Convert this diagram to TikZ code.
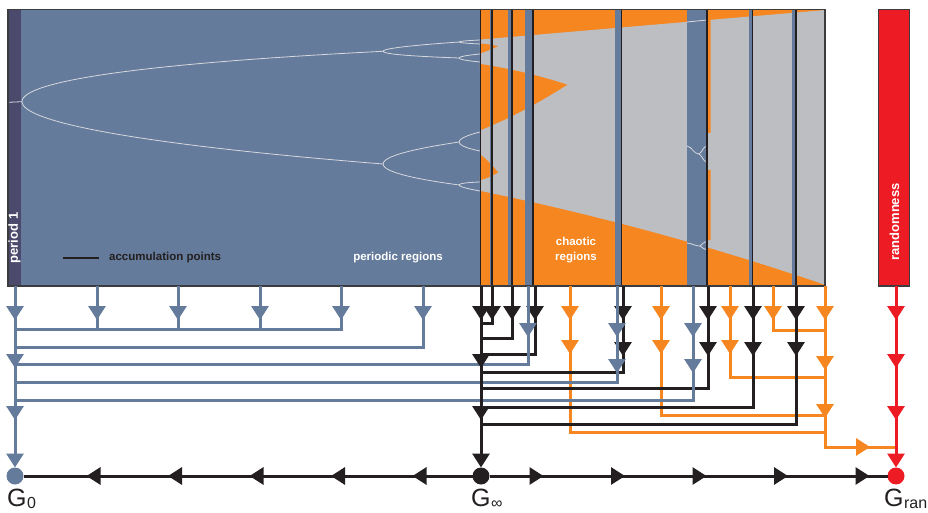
\documentclass[tikz,border=0pt]{standalone}
\usepackage{fontspec}
\setmainfont{Liberation Sans}
\usetikzlibrary{arrows.meta,decorations.markings}

\definecolor{perblue}{RGB}{101,123,155}
\definecolor{pertone}{RGB}{76,74,108}
\definecolor{chorange}{RGB}{245,134,32}
\definecolor{chgray}{RGB}{188,190,193}
\definecolor{randred}{RGB}{237,28,36}
\definecolor{accblack}{RGB}{35,31,32}
\definecolor{branchgray}{RGB}{214,216,221}
\definecolor{framegray}{RGB}{60,60,62}

\newcommand{\Gsub}[1]{G\kern0.5pt\raisebox{-2.5pt}{\fontsize{16}{16}\selectfont #1}}

\tikzset{
  tri/.tip={Triangle[length=14pt,width=17pt]},
  wire/.style={line width=3pt},
  bwire/.style={wire, draw=perblue},
  kwire/.style={wire, draw=accblack},
  owire/.style={wire, draw=chorange},
  rwire/.style={wire, draw=randred},
  tipat/.style={postaction={decorate, decoration={markings, mark=at position #1 with {\arrow{tri}}}}},
  marksat/.style={tipat/.list={#1}},
  flow/.style={postaction={decorate, decoration={markings, mark=between positions #1 and 395pt step 81.5pt with {\arrow{tri}}}}},
  dot/.style={circle, inner sep=0pt, outer sep=0pt, minimum size=17pt},
  branch/.style={draw=branchgray, line width=0.8pt},
  lbl/.style={font=\fontsize{11.5}{15}\selectfont\bfseries, inner sep=0pt},
  vlbl/.style={font=\fontsize{13}{15}\selectfont\bfseries, inner sep=0pt, rotate=90, text=white},
  glbl/.style={font=\fontsize{25}{25}\selectfont, inner sep=0pt, anchor=base west, text=accblack}
}

\begin{document}
\begin{tikzpicture}[x=1pt, y=-1pt,
  declare function={
    lg(\rr,\vv)=\rr*\vv*(1-\vv);
    ka(\rr)=\rr/4;
    kb(\rr)=lg(\rr,ka(\rr));
    kc(\rr)=lg(\rr,kb(\rr));
    kd(\rr)=lg(\rr,kc(\rr));
    ke(\rr)=lg(\rr,kd(\rr));
    kf(\rr)=lg(\rr,ke(\rr));
    kg(\rr)=lg(\rr,kf(\rr));
    kh(\rr)=lg(\rr,kg(\rr));
    rpx(\rr)=22+(\rr-3)*803.6;
    vpy(\vv)=285-275*\vv;
    ptwo(\tq)=(4+0.4495*\tq*\tq+\tq*sqrt(0.4495*(4+0.4495*\tq*\tq)))/(2*(3+0.4495*\tq*\tq));
  }]
\useasboundingbox (0,0) rectangle (928,513);

% bifurcation diagram
\fill[pertone] (8,9.5) rectangle (21,286);
\fill[perblue] (21,9.5) rectangle (480.5,286);
\fill[chorange] (480.5,9.5) rectangle (825,286);
\fill[chgray] plot[domain=3.5699:4, samples=40] ({rpx(\x)},{vpy(ka(\x))})
  -- plot[domain=4:3.5699, samples=40] ({rpx(\x)},{vpy(kb(\x))}) -- cycle;
\fill[chorange] plot[domain=3.5699:3.6786, samples=30] ({rpx(\x)},{vpy(kc(\x))})
  -- plot[domain=3.6786:3.5699, samples=30] ({rpx(\x)},{vpy(kd(\x))}) -- cycle;
\fill[chorange] plot[domain=3.5699:3.5925, samples=15] ({rpx(\x)},{vpy(kg(\x))})
  -- plot[domain=3.5925:3.5699, samples=15] ({rpx(\x)},{vpy(ke(\x))}) -- cycle;
\fill[chorange] plot[domain=3.5699:3.5925, samples=15] ({rpx(\x)},{vpy(kf(\x))})
  -- plot[domain=3.5925:3.5699, samples=15] ({rpx(\x)},{vpy(kh(\x))}) -- cycle;

% periodic windows
\foreach \wa/\wb in {489.5/492,507.5/512,525/533,614.5/621.5,686.5/707,748.5/752.5,792/796}
  \fill[perblue] (\wa,9.5) rectangle (\wb,286);
\fill[chorange] (707,10) rectangle (710.5,133) (707,170) rectangle (710.5,240);

% branches
\draw[branch] (8,102.3) -- (22,101.7);
\draw[branch] plot[domain=-1:1, samples=61] ({rpx(3+0.4495*\x*\x)},{vpy(ptwo(\x))});
\foreach \xb/\yb/\xe/\ya/\yc in {383.1/51.3/459.2/42/58, 383.1/164/459.2/142/185,
    459.2/42/480/40/44, 459.2/58/480/54/62, 459.2/142/480/132/151, 459.2/185/480/182/191}
  \draw[branch] plot[domain=-1:1, samples=25]
    ({\xb+(\xe-\xb)*\x*\x},{\yb+(\yc-\ya)/2*\x+((\ya+\yc)/2-\yb)*\x*\x});
\draw[branch] (687,22) -- (707,20);
\draw[branch] (687,146) to[out=-10,in=180] (699,154) to[out=30,in=190] (707,146);
\draw[branch] (699,154) to[out=-30,in=170] (707,162);
\draw[branch] (687,243) to[out=-5,in=180] (700,246) to[out=30,in=190] (707,241);
\draw[branch] (700,246) to[out=-30,in=170] (707,250);

% accumulation points
\foreach \ax in {480.5,492,512,533,621.5,707,752.5,796}
  \draw[accblack, line width=1.2pt] (\ax,9.5) -- (\ax,286);
\draw[framegray, line width=1.2pt] (8,9.5) rectangle (825,286);
\filldraw[fill=randred, draw=framegray, line width=1.2pt] (878.5,9.5) rectangle (909.5,286);

% labels
\node[vlbl] (per1) at (14.5,238) {period 1};
\draw[accblack, line width=1.2pt] (63,258) -- (99,258);
\node[lbl, text=accblack, anchor=west] (acc) at (109,258) {accumulation points};
\node[lbl, text=white] (pereg) at (398,258) {periodic regions};
\node[lbl, text=white, align=center] (chreg) at (576,250) {chaotic\\regions};
\node[vlbl] (rand) at (894.5,222) {randomness};

% limit graphs
\node[dot, fill=perblue] (G0) at (15,476) {};
\node[dot, fill=accblack] (Ginf) at (481,476) {};
\node[dot, fill=randred] (Gran) at (896,476) {};
\coordinate (ocol) at (825,286);
\node[glbl] (l0) at (7,506) {\Gsub{0}};
\node[glbl] (linf) at (471,506) {\Gsub{∞}};
\node[glbl] (lran) at (884,506) {\Gsub{ran}};

% chaotic windows into randomness
\foreach \cx/\cy in {570/432,661/415,730/377}
  \draw[owire, marksat={34pt,68pt}] (\cx,286) |- (ocol |- 0,\cy);
\draw[owire, marksat=34pt] (773,286) |- (ocol |- 0,330);
\draw[owire, marksat={34pt,84pt,132pt,206pt}] (ocol) |- (Gran |- 0,447);

% accumulation points into G_inf
\foreach \cx/\cy in {492/323,512/338,535/354}
  \draw[kwire, marksat=34pt] (\cx,286) |- (Ginf |- 0,\cy);
\foreach \cx/\cy in {623/372,708/388,753/407,796/424}
  \draw[kwire, marksat={34pt,70pt}] (\cx,286) |- (Ginf |- 0,\cy);

% periodic windows into G_0
\foreach \cx in {97,178,260,341}
  \draw[bwire, marksat=34pt] (\cx,286) |- (G0 |- 0,329);
\draw[bwire, marksat=34pt] (423,286) |- (G0 |- 0,347);
\draw[bwire, marksat=51pt] (528,286) |- (G0 |- 0,364);
\foreach \cx/\cy in {617/382,693/400}
  \draw[bwire, marksat={51pt,87pt}] (\cx,286) |- (G0 |- 0,\cy);

% collectors
\draw[bwire, marksat={34pt,82pt,134pt}, -{tri}] (15,286) -- (G0);
\draw[kwire, marksat={34pt,82pt,134pt}, -{tri}] (481,286) -- (Ginf);
\draw[rwire, marksat={34pt,82pt,134pt}, -{tri}] (896,286) -- (Gran);
\draw[kwire, flow=60pt] (Ginf) -- (G0);
\draw[kwire, flow=54pt] (Ginf) -- (Gran);
\end{tikzpicture}
\end{document}
